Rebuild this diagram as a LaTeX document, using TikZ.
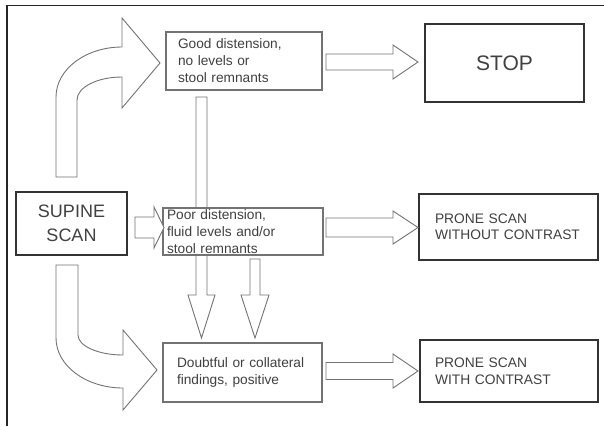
\documentclass[tikz,border=0pt]{standalone}
\usepackage{fontspec}
\setmainfont{Liberation Sans}
\usetikzlibrary{calc,backgrounds}

\tikzset{
  thinbox/.style={draw=black!55, line width=1.1pt, fill=white, inner ysep=0pt, outer sep=0pt,
    align=left, text=black!75, font=\fontsize{13.7}{17}\selectfont},
  thickbox/.style={draw=black!80, line width=1.8pt, fill=white, inner sep=0pt, outer sep=0pt,
    text=black!75},
  fatarrow/.style={draw=black!55, line width=0.9pt, fill=white, line join=miter}
}

% block arrows: start, end, shaft half width, head half width, head length
\newcommand{\fatright}[5]{%
\draw[fatarrow] let \p1=(#1), \p2=(#2) in
  (\x1,\y1+#3pt) -- (\x2-#5pt,\y1+#3pt) -- (\x2-#5pt,\y1+#4pt) -- (\x2,\y1)
  -- (\x2-#5pt,\y1-#4pt) -- (\x2-#5pt,\y1-#3pt) -- (\x1,\y1-#3pt) -- cycle;}
\newcommand{\fatdown}[5]{%
\draw[fatarrow] let \p1=(#1), \p2=(#2) in
  (\x1-#3pt,\y1) -- (\x1-#3pt,\y2+#5pt) -- (\x1-#4pt,\y2+#5pt) -- (\x1,\y2)
  -- (\x1+#4pt,\y2+#5pt) -- (\x1+#3pt,\y2+#5pt) -- (\x1+#3pt,\y1) -- cycle;}

\begin{document}
\begin{tikzpicture}[x=1pt,y=-1pt]
\useasboundingbox (0,0) rectangle (604,426);

\draw[line width=1.5pt, black!85] (604,5.5) -- (7,5.5) -- (7,426);

% boxes (coordinates in pixels of the page)
\node[thinbox, text width=132pt, inner xsep=12pt, minimum height=58pt] (good) at (244,61)
  {Good distension,\\no levels or\\stool remnants};
\node[thinbox, text width=152pt, inner xsep=4pt, minimum height=47pt] (poor) at (243,231.5)
  {Poor distension,\\fluid levels and/or\\stool remnants};
\node[thinbox, text width=131pt, inner xsep=14pt, minimum height=59pt] (doubt) at (242.5,372.5)
  {Doubtful or collateral\\findings, positive};

\node[thickbox, minimum width=159pt, minimum height=78pt, font=\fontsize{21}{24}\selectfont] (stop) at (504.5,63) {STOP};
\node[thickbox, text width=147pt, inner xsep=16pt, minimum height=66pt, align=left,
  font=\fontsize{13.8}{16}\selectfont] (without) at (508.5,227) {PRONE SCAN\\WITHOUT CONTRAST};
\node[thickbox, text width=148pt, inner xsep=15pt, minimum height=62pt, align=left,
  font=\fontsize{13.8}{17}\selectfont] (with) at (509,371) {PRONE SCAN\\WITH CONTRAST};
\node[thickbox, minimum width=111pt, minimum height=63pt, align=center,
  font=\fontsize{18}{24}\selectfont] (supine) at (71.5,223.5) {SUPINE\\SCAN};

% downward arrows, behind the poor box
\begin{pgfonlayer}{background}
\fatdown{$(good.south west)+(35.5,7)$}{$(doubt.north west)+(38.5,-5)$}{5.5}{13.5}{43}
\fatdown{$(poor.south west)+(92,4)$}{$(doubt.north west)+(92,-5)$}{5}{14}{43}
\end{pgfonlayer}

% straight arrows
\fatright{$(good.east)+(4,1)$}{$(stop.west)+(-7,0)$}{8}{17}{25}
\fatright{$(poor.east)+(3,-4)$}{$(without.west)+(-1,0)$}{9.5}{16.5}{25}
\fatright{$(doubt.east)+(4,-1.5)$}{$(with.west)+(-2,0)$}{8.5}{17}{25}
\fatright{$(supine.east)+(8,4)$}{$(poor.west)+(1,0)$}{10.5}{20.5}{10}

% curved arrows out of the supine scan
\draw[fatarrow] (56,177) -- (56,97) .. controls (56,69.4) and (85.6,47) .. (122,47)
  -- (122,18) -- (160,63) -- (122,108) -- (122,77)
  .. controls (97.2,77) and (77,87.3) .. (77,100) -- (77,177) -- cycle;
\draw[fatarrow] (56,265) -- (56,338) .. controls (56,365.6) and (86,388) .. (123,388)
  -- (123,410) -- (157,370) -- (123,330) -- (123,355)
  .. controls (98.2,355) and (78,346) .. (78,335) -- (78,265) -- cycle;

\end{tikzpicture}
\end{document}
